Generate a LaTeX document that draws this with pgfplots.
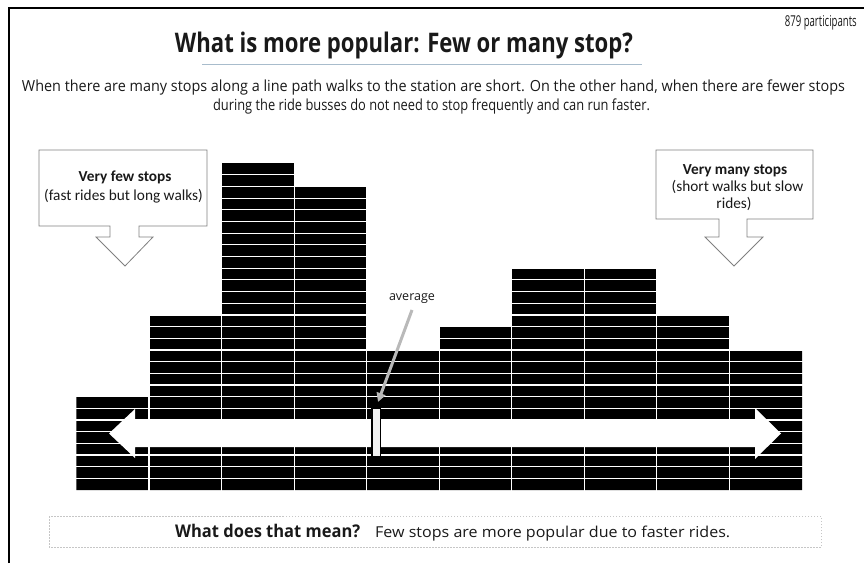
\documentclass[border=0pt]{standalone}
\usepackage{pgfplots}
\pgfplotsset{compat=1.18}
\usepackage{fontspec}
\setmainfont{Open Sans}
\newfontfamily\calfont{Carlito}
\usepackage{graphicx}
\usetikzlibrary{arrows.meta}
\definecolor{lineblue}{RGB}{168,188,204}
\definecolor{txt}{RGB}{25,25,25}
\newcommand{\fb}[3]{\resizebox{#1pt}{#2pt}{#3}}
\newcommand{\cf}{\calfont\fontsize{15.3}{18}\selectfont}
\begin{document}
\begin{tikzpicture}
% bars: number of participant blocks per category
\begin{axis}[at={(0,0)}, anchor=south west, scale only axis, width=864pt, height=563pt,
  xmin=-1.0544, xmax=10.8546, ymin=-6.2554, ymax=41.988,
  xtick={1,...,9}, ytick={1,...,27}, xticklabels={}, yticklabels={},
  xmajorgrids, ymajorgrids, grid style={white, line width=1.1pt},
  axis on top, axis line style={draw=none}, major tick length=0pt, clip=false]
\addplot[ybar, bar width=1, bar shift=0pt, fill=black, draw=none] coordinates
  {(0.5,8) (1.5,15) (2.5,28) (3.5,26) (4.5,12) (5.5,14) (6.5,19) (7.5,19) (8.5,15) (9.5,12)};
\end{axis}
% overlay in pixel coordinates (y negative downwards)
\begin{axis}[at={(0,0)}, anchor=south west, scale only axis, width=864pt, height=563pt,
  xmin=0, xmax=864, ymin=-563, ymax=0, hide axis, clip=false]
% frame
\draw[line width=2.5pt] (9,-563) -- (9,-8) -- (864,-8);
% title
\node[anchor=base, text=txt] at (404,-53) {\fb{458}{20.5}{\bfseries What is more popular: Few or many stop?}};
\draw[lineblue, line width=1.8pt] (202,-64.5) -- (642,-64.5);
\node[anchor=base east, inner sep=0pt, text=txt] at (857,-27) {\fb{72}{11}{879 participants}};
\node[anchor=base, text=txt] at (433.5,-91.5) {\fb{823}{11.7}{When there are many stops along a line path walks to the station are short. On the other hand, when there are fewer stops}};
\node[anchor=base, text=txt] at (431.5,-110.5) {\fb{437}{11.7}{during the ride busses do not need to stop frequently and can run faster.}};
% callouts
\draw[gray, line width=0.8pt, fill=white] (39,-150) -- (207,-150) -- (207,-226) -- (139,-226) -- (139,-237) -- (153,-237) -- (125,-266) -- (96,-237) -- (110,-237) -- (110,-226) -- (39,-226) -- cycle;
\draw[gray, line width=0.8pt, fill=white] (656,-150) -- (813,-150) -- (813,-219) -- (747,-219) -- (747,-237) -- (763,-237) -- (734,-266) -- (705,-237) -- (719,-237) -- (719,-219) -- (656,-219) -- cycle;
\node[anchor=base, text=txt] at (125,-182) {\cf\bfseries Very few stops};
\node[anchor=base, text=txt] at (123.5,-201) {\cf (fast rides but long walks)};
\node[anchor=base, text=txt] at (735,-175) {\cf\bfseries Very many stops};
\node[anchor=base, text=txt] at (737.5,-192) {\cf (short walks but slow};
\node[anchor=base, text=txt] at (734,-209) {\cf rides)};
% double arrow
\fill[white] (109,-433.5) -- (135,-409) -- (135,-420) -- (755,-420) -- (755,-408) -- (781,-433.5) -- (755,-459) -- (755,-447) -- (135,-447) -- (135,-458) -- cycle;
% average marker
\draw[black, line width=1.5pt, fill=gray!10] (372,-408) rectangle (380.5,-456.5);
\draw[gray!55, line width=3pt, -{Triangle[width=9pt,length=9pt]}] (412,-310) -- (378,-402);
\node[anchor=base, text=txt] at (412,-301) {\resizebox{46pt}{!}{average}};
% bottom box
\draw[gray!45, dash pattern=on 1.5pt off 1.5pt, line width=0.8pt] (49,-516) rectangle (821,-547);
\node[anchor=base west, inner sep=0pt, text=txt] at (175,-537.5) {\fb{185}{13.3}{\bfseries What does that mean?}};
\node[anchor=base west, inner sep=0pt, text=txt] at (375,-537.5) {\fb{355}{11.5}{Few stops are more popular due to faster rides.}};
\end{axis}
\pgfresetboundingbox
\path[use as bounding box] (0,0) rectangle (864pt,563pt);
\end{tikzpicture}
\end{document}
